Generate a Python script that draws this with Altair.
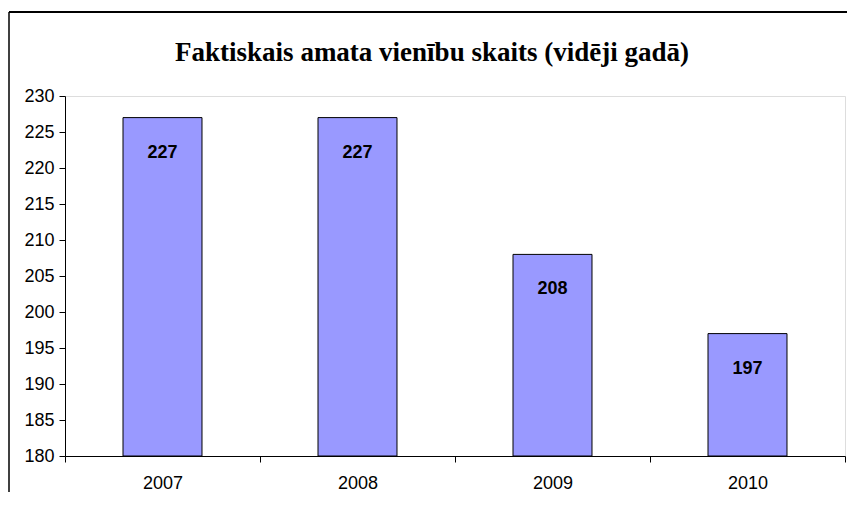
import altair as alt
import pandas as pd

years = ["2007", "2008", "2009", "2010"]
values = [227, 227, 208, 197]
y_ticks = [180, 185, 190, 195, 200, 205, 210, 215, 220, 225, 230]
title_text = "Faktiskais amata vienību skaits (vidēji gadā)"

df = pd.DataFrame({"year": years, "value": values})

W, H = 780, 360

x_enc = alt.X("year:N", sort=years, title=None,
              scale=alt.Scale(paddingInner=0, paddingOuter=0),
              axis=alt.Axis(labelAngle=0, tickBand="extent", domainColor="black",
                            tickColor="black", labelColor="black", labelFont="Liberation Sans",
                            labelFontSize=18, labelPadding=12, tickSize=6, grid=False))
y_enc = alt.Y("value:Q", title=None,
              scale=alt.Scale(domain=[180, 230], zero=False, nice=False),
              axis=alt.Axis(values=y_ticks, domainColor="black", tickColor="black",
                            labelColor="black", labelFont="Liberation Sans", labelOverlap=False,
                            labelFontSize=18, tickSize=6, labelPadding=5, grid=False))

bars = alt.Chart(df).mark_bar(color="#9999FF", stroke="black", strokeWidth=1,
                              width=alt.RelativeBandSize(0.405)).encode(
    x=x_enc, y=y_enc, y2=alt.datum(180))

labels = alt.Chart(df).mark_text(font="Liberation Sans", fontWeight="bold", fontSize=18,
                                 baseline="middle", dy=35, color="black").encode(
    x=x_enc, y=y_enc, text="value:Q")

title = alt.Chart(pd.DataFrame({"t": [title_text]})).mark_text(
    font="Liberation Serif", fontWeight="bold", fontSize=27, baseline="middle",
    align="center", color="black").encode(
    text="t:N", x=alt.value(367), y=alt.value(-43))

frame_top = alt.Chart(pd.DataFrame({"a": [0]})).mark_rule(color="black", strokeWidth=2).encode(
    x=alt.value(-56), x2=alt.value(800), y=alt.value(-84))
frame_left = alt.Chart(pd.DataFrame({"a": [0]})).mark_rule(color="black", strokeWidth=1.5).encode(
    x=alt.value(-56), y=alt.value(-84), y2=alt.value(420))

chart = alt.layer(bars, labels, title, frame_top, frame_left).properties(
    width=W, height=H,
    autosize=alt.AutoSizeParams(type="none"),
    padding={"left": 57, "top": 88, "right": 2, "bottom": 36},
).configure_view(stroke="#808080", strokeWidth=1).configure(background="white")

chart.save("out.html", embed_options={"renderer": "svg", "actions": False})
